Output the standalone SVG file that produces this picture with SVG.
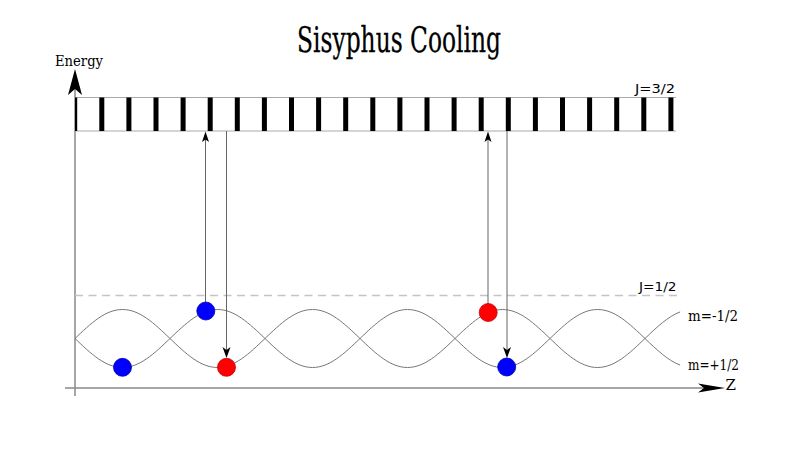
<svg xmlns="http://www.w3.org/2000/svg" width="800" height="450" viewBox="0 0 800 450">
<style>
.serif{font-family:"DejaVu Serif","Liberation Serif",serif;fill:#000}
.sans{font-family:"DejaVu Sans","Liberation Sans",sans-serif;fill:#000}
.bar{fill:#000}
.wave{fill:none;stroke:#777;stroke-width:1}
.trans{stroke:#666;stroke-width:1;fill:none}
.head{fill:#000}
.axis{stroke:#888;stroke-width:1.5;fill:none}
.blue{fill:#0000ff;stroke:#0000b0;stroke-width:0.8}
.red{fill:#ff0000;stroke:#c00000;stroke-width:0.8}
</style>
<defs>
<clipPath id="bandclip"><rect x="75" y="97" width="601" height="35"/></clipPath>
</defs>
<rect width="800" height="450" fill="#fff"/>
<text class="serif" x="297" y="52" font-size="35" textLength="204" lengthAdjust="spacingAndGlyphs" stroke="#000" stroke-width="0.3">Sisyphus Cooling</text>

<g id="axes">
<line class="axis" x1="75" y1="396" x2="75" y2="88"/>
<path class="head" d="M75,69 L82,95 L75,89 L68,95 Z"/>
<line class="axis" x1="65" y1="388" x2="705" y2="388"/>
<path class="head" d="M725,388 L698,383.5 L704,388 L698,392.5 Z"/>
<text class="serif" x="55" y="66" font-size="14.5" textLength="48" lengthAdjust="spacingAndGlyphs">Energy</text>
<text class="serif" x="725.5" y="389.5" font-size="15">Z</text>
</g>

<g id="band-J32">
<line x1="75" y1="97.5" x2="676" y2="97.5" stroke="#aaa" stroke-width="1"/>
<line x1="75" y1="131" x2="676" y2="131" stroke="#aaa" stroke-width="1"/>
<g clip-path="url(#bandclip)">
<rect class="bar" x="72.2" y="97.5" width="5" height="33.5"/>
<rect class="bar" x="99.3" y="97.5" width="5" height="33.5"/>
<rect class="bar" x="126.4" y="97.5" width="5" height="33.5"/>
<rect class="bar" x="153.5" y="97.5" width="5" height="33.5"/>
<rect class="bar" x="180.6" y="97.5" width="5" height="33.5"/>
<rect class="bar" x="207.7" y="97.5" width="5" height="33.5"/>
<rect class="bar" x="234.8" y="97.5" width="5" height="33.5"/>
<rect class="bar" x="261.9" y="97.5" width="5" height="33.5"/>
<rect class="bar" x="289.0" y="97.5" width="5" height="33.5"/>
<rect class="bar" x="316.1" y="97.5" width="5" height="33.5"/>
<rect class="bar" x="343.2" y="97.5" width="5" height="33.5"/>
<rect class="bar" x="370.3" y="97.5" width="5" height="33.5"/>
<rect class="bar" x="397.4" y="97.5" width="5" height="33.5"/>
<rect class="bar" x="424.5" y="97.5" width="5" height="33.5"/>
<rect class="bar" x="451.6" y="97.5" width="5" height="33.5"/>
<rect class="bar" x="478.7" y="97.5" width="5" height="33.5"/>
<rect class="bar" x="505.8" y="97.5" width="5" height="33.5"/>
<rect class="bar" x="532.9" y="97.5" width="5" height="33.5"/>
<rect class="bar" x="560.0" y="97.5" width="5" height="33.5"/>
<rect class="bar" x="587.1" y="97.5" width="5" height="33.5"/>
<rect class="bar" x="614.2" y="97.5" width="5" height="33.5"/>
<rect class="bar" x="641.3" y="97.5" width="5" height="33.5"/>
<rect class="bar" x="668.4" y="97.5" width="5" height="33.5"/>
</g>
<text class="sans" x="635" y="93" font-size="13" textLength="40" lengthAdjust="spacingAndGlyphs">J=3/2</text>
</g>

<g id="level-J12">
<line x1="75" y1="295.5" x2="677" y2="295.5" stroke="#c4c4c4" stroke-width="1.5" stroke-dasharray="8,5.5"/>
<text class="sans" x="639" y="291" font-size="13" textLength="37.5" lengthAdjust="spacingAndGlyphs">J=1/2</text>
</g>

<g id="wave-m-minus">
<path class="wave" d="M75,338.5 c15.88,-15.23 30.42,-29 47.5,-29 c17.08,0 31.62,13.77 47.5,29 c15.88,15.23 30.42,29 47.5,29 c17.08,0 31.62,-13.770 47.5,-29 c15.88,-15.23 30.42,-29 47.5,-29 c17.08,0 31.62,13.77 47.5,29 c15.88,15.23 30.42,29 47.5,29 c17.08,0 31.62,-13.77 47.5,-29 c15.88,-15.23 30.42,-29 47.5,-29 c17.08,0 31.62,13.77 47.5,29 c15.88,15.23 30.42,29 47.5,29 c17.08,0 31.62,-13.77 47.5,-29 c11.91,-11.42 23.07,-22.02 35.11,-26.61"/>
<text class="serif" x="688" y="321" font-size="14.5" textLength="50" lengthAdjust="spacingAndGlyphs">m=-1/2</text>
</g>

<g id="wave-m-plus">
<path class="wave" d="M75,338.5 c15.88,15.23 30.42,29 47.5,29 c17.08,0 31.62,-13.77 47.5,-29 c15.88,-15.23 30.42,-29 47.5,-29 c17.08,0 31.62,13.77 47.5,29 c15.88,15.23 30.42,29 47.5,29 c17.08,0 31.62,-13.77 47.5,-29 c15.88,-15.23 30.42,-29 47.5,-29 c17.08,0 31.62,13.77 47.5,29 c15.88,15.23 30.42,29 47.5,29 c17.08,0 31.62,-13.77 47.5,-29 c15.88,-15.23 30.42,-29 47.5,-29 c17.08,0 31.62,13.77 47.5,29 c11.91,11.42 23.07,22.02 35.11,26.61"/>
<text class="serif" x="688" y="369.5" font-size="14.5" textLength="51" lengthAdjust="spacingAndGlyphs">m=+1/2</text>
</g>

<g id="connectors">
<line class="trans" x1="205.5" y1="302" x2="205.5" y2="138"/>
<path class="head" d="M205.5,131.5 L209,142 L205.5,139.5 L202,142 Z"/>
<line class="trans" x1="226.5" y1="131" x2="226.5" y2="351"/>
<path class="head" d="M226.5,358 L230.5,347 L226.5,350 L222.5,347 Z"/>
<line class="trans" x1="488" y1="304" x2="488" y2="138"/>
<path class="head" d="M488,131.5 L491.5,142 L488,139.5 L484.5,142 Z"/>
<line class="trans" x1="507" y1="131" x2="507" y2="351"/>
<path class="head" d="M507,358 L511,347 L507,350 L503,347 Z"/>
</g>

<g id="atom-1"><circle class="blue" cx="122.5" cy="367.3" r="9"/></g>
<g id="atom-2"><circle class="blue" cx="205.8" cy="311" r="9"/></g>
<g id="atom-3"><circle class="red" cx="226.5" cy="367.3" r="9"/></g>
<g id="atom-4"><circle class="red" cx="488.2" cy="312.5" r="9"/></g>
<g id="atom-5"><circle class="blue" cx="506.7" cy="367" r="9"/></g>
</svg>
